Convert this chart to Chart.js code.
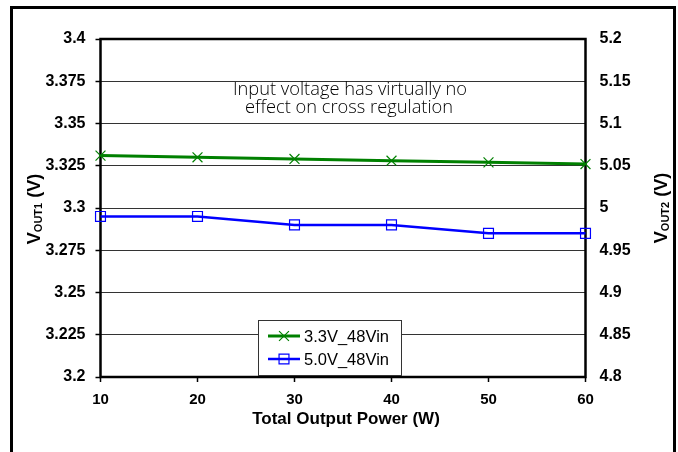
<!DOCTYPE html>
<html>
<head>
<meta charset="utf-8">
<script src="https://cdn.jsdelivr.net/npm/chart.js@4.4.0/dist/chart.umd.min.js"></script>
<style>
  html, body { margin: 0; padding: 0; background: #fff; }
  canvas { display: block; }
</style>
</head>
<body>
<canvas id="c" width="678" height="452"></canvas>
<script>
// ---- data ----
const power = [10, 20, 30, 40, 50, 60];
const vout1_48Vin = [3.331, 3.330, 3.329, 3.328, 3.327, 3.326];
const vout2_48Vin = [4.99, 4.99, 4.98, 4.98, 4.97, 4.97];
const seriesLabels = ['3.3V_48Vin', '5.0V_48Vin'];
const xTicks = [10, 20, 30, 40, 50, 60];
const leftTicks = [3.2, 3.225, 3.25, 3.275, 3.3, 3.325, 3.35, 3.375, 3.4];
const leftTickLabels = ['3.2', '3.225', '3.25', '3.275', '3.3', '3.325', '3.35', '3.375', '3.4'];
const rightTicks = [4.8, 4.85, 4.9, 4.95, 5.0, 5.05, 5.1, 5.15, 5.2];
const rightTickLabels = ['4.8', '4.85', '4.9', '4.95', '5', '5.05', '5.1', '5.15', '5.2'];
const xTitle = 'Total Output Power (W)';
const noteLines = ['Input voltage has virtually no', 'effect on cross regulation'];

const GREEN = '#008000';
const BLUE = '#0000FF';
const FONT = "'Liberation Sans', Arial, sans-serif";

function pts(xs, ys) { return xs.map((x, i) => ({ x: x, y: ys[i] })); }

const decorPlugin = {
  id: 'decor',
  beforeDraw(chart) {
    const ctx = chart.ctx;
    ctx.save();
    ctx.fillStyle = '#fff';
    ctx.fillRect(0, 0, chart.width, chart.height);
    ctx.restore();
  },
  beforeDatasetsDraw(chart) {
    const ctx = chart.ctx, a = chart.chartArea;
    ctx.save();
    ctx.strokeStyle = '#000';
    ctx.lineWidth = 2.5;
    ctx.strokeRect(a.left, a.top, a.right - a.left, a.bottom - a.top);
    ctx.restore();
  },
  afterDraw(chart) {
    const ctx = chart.ctx, a = chart.chartArea;
    ctx.save();
    // outer frame
    ctx.strokeStyle = '#000';
    ctx.lineWidth = 3;
    ctx.strokeRect(11.5, 7.5, 663, 470);

    // x title
    ctx.fillStyle = '#000';
    ctx.font = 'bold 17px ' + FONT;
    ctx.textAlign = 'center';
    ctx.textBaseline = 'alphabetic';
    ctx.fillText(xTitle, 346, 424);

    // rotated y titles with subscript
    function vTitle(cx, cy, sub) {
      ctx.save();
      ctx.translate(cx, cy);
      ctx.rotate(-Math.PI / 2);
      const big = 'bold 18px ' + FONT, small = 'bold 11px ' + FONT;
      ctx.font = big; const wV = ctx.measureText('V').width;
      const wTail = ctx.measureText(' (V)').width;
      ctx.font = small; const wS = ctx.measureText(sub).width;
      const total = wV + wS + wTail;
      let x = -total / 2;
      ctx.textAlign = 'left';
      ctx.textBaseline = 'alphabetic';
      ctx.font = big; ctx.fillText('V', x, 0); x += wV;
      ctx.font = small; ctx.fillText(sub, x, 2); x += wS;
      ctx.font = big; ctx.fillText(' (V)', x, 0);
      ctx.restore();
    }
    vTitle(40, 209, 'OUT1');
    vTitle(667, 208, 'OUT2');

    // annotation
    ctx.font = '300 18.3px "Open Sans", sans-serif';
    ctx.textAlign = 'center';
    ctx.textBaseline = 'alphabetic';
    ctx.fillStyle = '#000';
    ctx.fillText(noteLines[0], 350, 95);
    ctx.fillText(noteLines[1], 349, 113);

    // legend
    const bx = 258.5, by = 320.5, bw = 143, bh = 55;
    ctx.fillStyle = '#fff';
    ctx.fillRect(bx, by, bw, bh);
    ctx.strokeStyle = '#333';
    ctx.lineWidth = 1;
    ctx.strokeRect(bx, by, bw, bh);
    const rows = [336, 359];
    chart.data.datasets.forEach((ds, i) => {
      const y = rows[i];
      ctx.strokeStyle = ds.borderColor;
      ctx.lineWidth = ds.borderWidth;
      ctx.beginPath(); ctx.moveTo(268, y); ctx.lineTo(300, y); ctx.stroke();
      ctx.lineWidth = ds.pointBorderWidth;
      ctx.fillStyle = 'rgba(0,0,0,0)';
      Chart.helpers.drawPoint(ctx, { pointStyle: ds.pointStyle, rotation: 0, radius: ds.pointRadius, borderWidth: ds.pointBorderWidth }, 284, y);
      ctx.fillStyle = '#000';
      ctx.font = '16.5px ' + FONT;
      ctx.textAlign = 'left';
      ctx.textBaseline = 'middle';
      ctx.fillText(ds.label, 304, y + 1);
    });
    ctx.restore();
  }
};

new Chart(document.getElementById('c'), {
  type: 'line',
  data: {
    datasets: [
      {
        label: seriesLabels[0],
        data: pts(power, vout1_48Vin),
        yAxisID: 'y',
        borderColor: GREEN,
        backgroundColor: 'transparent',
        borderWidth: 3,
        pointStyle: 'crossRot',
        pointRadius: 7,
        pointBorderWidth: 1.2,
        pointBorderColor: GREEN,
        clip: false,
        tension: 0
      },
      {
        label: seriesLabels[1],
        data: pts(power, vout2_48Vin),
        yAxisID: 'y2',
        borderColor: BLUE,
        backgroundColor: 'transparent',
        borderWidth: 2.5,
        pointStyle: 'rect',
        pointRadius: 7,
        pointBorderWidth: 1.2,
        pointBorderColor: BLUE,
        pointBackgroundColor: 'transparent',
        clip: false,
        tension: 0
      }
    ]
  },
  options: {
    responsive: false,
    animation: false,
    layout: { padding: { top: 39, left: 0, right: 0, bottom: 0 } },
    plugins: { legend: { display: false }, tooltip: { enabled: false } },
    scales: {
      x: {
        type: 'linear',
        min: 10, max: 60,
        afterBuildTicks(s) { s.ticks = xTicks.map(v => ({ value: v })); },
        afterFit(s) { s.height = 75; },
        grid: { drawOnChartArea: false, drawTicks: true, tickLength: 5, tickColor: '#000', tickWidth: 1.5 },
        border: { display: false },
        ticks: { color: '#000', font: { family: FONT, size: 15, weight: 'bold' }, padding: 9, maxRotation: 0 }
      },
      y: {
        position: 'left',
        min: 3.2, max: 3.4,
        afterBuildTicks(s) { s.ticks = leftTicks.map(v => ({ value: v })); },
        afterFit(s) { s.width = 100.5; },
        grid: { color: '#333', lineWidth: 1, drawTicks: true, tickLength: 5, tickColor: '#000', tickWidth: 1.5 },
        border: { display: false },
        ticks: {
          color: '#000', font: { family: FONT, size: 16, weight: 'bold' }, padding: 10,
          callback(v, i) { return leftTickLabels[i]; }
        }
      },
      y2: {
        position: 'right',
        min: 4.8, max: 5.2,
        afterBuildTicks(s) { s.ticks = rightTicks.map(v => ({ value: v })); },
        afterFit(s) { s.width = 92.5; },
        grid: { drawOnChartArea: false, drawTicks: false },
        border: { display: false },
        ticks: {
          color: '#000', font: { family: FONT, size: 16, weight: 'bold' }, padding: 14,
          callback(v, i) { return rightTickLabels[i]; }
        }
      }
    }
  },
  plugins: [decorPlugin]
});
</script>
</body>
</html>
